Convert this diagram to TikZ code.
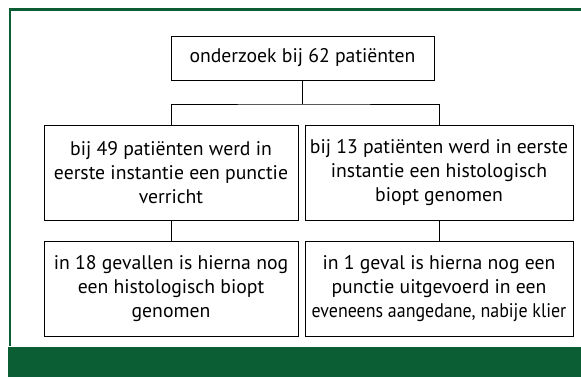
\documentclass[tikz,border=0pt]{standalone}
\usepackage{fontspec}
\setmainfont{PT Sans}
\usepackage{xcolor}
\usetikzlibrary{positioning}
\definecolor{framegreen}{RGB}{11,94,52}

\begin{document}
\begin{tikzpicture}[x=1pt, y=-1pt,
  box/.style={draw, line width=1pt, align=center, inner sep=0pt,
    minimum height=95pt, font=\fontsize{19.7}{24}\selectfont},
  link/.style={line width=1pt}]
\useasboundingbox (0,0) rectangle (581,378);
% frame
\draw[framegreen, line width=2.5pt] (10,346) -- (10,9.5) -- (581,9.5);
\fill[framegreen] (8,346.5) rectangle (581,377);
% boxes
\node[box, minimum width=263pt, minimum height=44pt] (all) at (302.5,58) {onderzoek bij 62 patiënten};
\node[box, minimum width=254pt] (punctie) at (171,172.5) {bij 49 patiënten werd in\\eerste instantie een punctie\\verricht};
\node[box, minimum width=268pt] (biopt) at (439,172.5) {bij 13 patiënten werd in eerste\\instantie een histologisch\\biopt genomen};
\node[box, minimum width=254pt] (nabiopt) at (171,288.5) {in 18 gevallen is hierna nog\\een histologisch biopt\\genomen};
\node[box, minimum width=268pt] (napunctie) at (439,288.5) {in 1 geval is hierna nog een\\punctie uitgevoerd in een\\\scalebox{0.91}[1]{eveneens aangedane, nabije klier}};
% connectors
\coordinate (split) at (302.5,104);
\draw[link] (all) -- (split);
\draw[link] (punctie.north) |- (split) -| (biopt.north);
\draw[link] (punctie) -- (nabiopt);
\draw[link] (biopt) -- (napunctie);
\end{tikzpicture}
\end{document}
